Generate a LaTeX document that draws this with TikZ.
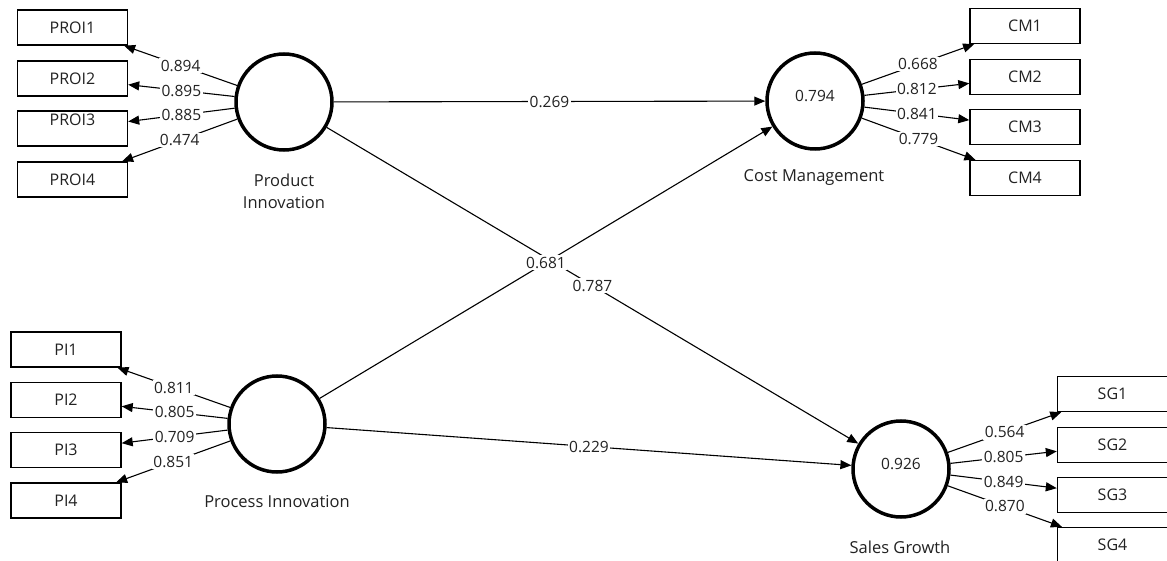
\documentclass[tikz,border=0pt]{standalone}
\usepackage{fontspec}
\setmainfont{Open Sans}
\usetikzlibrary{arrows.meta}
\newcommand\figfont{\fontsize{15.5}{22}\selectfont}
\newcommand\capfont{\fontsize{16.5}{22}\selectfont}
\newcommand\boxfont{\fontsize{16}{22}\selectfont}
\definecolor{txt}{HTML}{222222}
\begin{document}
\begin{tikzpicture}[x=1pt,y=-1pt,
  lv/.style={circle,draw,line width=3.5pt,minimum size=96pt,inner sep=0pt,font=\figfont,text=txt},
  ind/.style={rectangle,draw,line width=1.4pt,minimum width=110pt,minimum height=35pt,inner sep=0pt,font=\boxfont,text=txt},
  lnk/.style={line width=1.1pt,-{Triangle[length=11pt,width=9pt]}},
  loadlab/.style={fill=white,inner sep=1.5pt,font=\figfont,text=txt},
  lvcaption/.style={font=\capfont,align=center,text=txt}]
\useasboundingbox (0,0) rectangle (1167,561);
\clip (0,0) rectangle (1167,561);
\fill[white] (0,0) rectangle (1167,561);
% latent variables
\node[lv] (PRI) at (284,102) {};
\node[lv] (CM) at (815,101) {\raisebox{5pt}[\height][\depth]{0.794}};
\node[lv] (PCI) at (277,424) {};
\node[lv] (SG) at (901,469) {\raisebox{5pt}[\height][\depth]{0.926}};
% captions
\node[lvcaption] (capPRI) at (284,191) {Product\\Innovation};
\node[lvcaption] (capCM) at (814,178) {Cost Management};
\node[lvcaption] (capPCI) at (277,502) {Process Innovation};
\node[lvcaption] (capSG) at (900,547) {Sales Growth};
% indicators
\node[ind] (PROI1) at (72.5,27.5) {PROI1};
\node[ind] (PROI2) at (72.5,78.5) {PROI2};
\node[ind] (PROI3) at (72.5,128.5) {\raisebox{9pt}[\height][\depth]{PROI3}};
\node[ind] (PROI4) at (72.5,179.5) {PROI4};
\node[ind] (CM1) at (1025,26) {CM1};
\node[ind] (CM2) at (1025,77) {CM2};
\node[ind] (CM3) at (1025,127) {CM3};
\node[ind] (CM4) at (1025,178) {CM4};
\node[ind] (PI1) at (66,349.5) {PI1};
\node[ind] (PI2) at (66,400) {PI2};
\node[ind] (PI3) at (66,450) {PI3};
\node[ind] (PI4) at (66,500.5) {PI4};
\node[ind] (SG1) at (1112.5,394) {SG1};
\node[ind] (SG2) at (1112.5,445) {SG2};
\node[ind] (SG3) at (1112.5,495) {SG3};
\node[ind] (SG4) at (1112.5,545) {SG4};
% loadings
\draw[lnk] (PRI) -- node[loadlab] {0.894} (PROI1);
\draw[lnk] (PRI) -- node[loadlab] {0.895} (PROI2);
\draw[lnk] (PRI) -- node[loadlab] {0.885} (PROI3);
\draw[lnk] (PRI) -- node[loadlab] {0.474} (PROI4);
\draw[lnk] (CM) -- node[loadlab] {0.668} (CM1);
\draw[lnk] (CM) -- node[loadlab] {0.812} (CM2);
\draw[lnk] (CM) -- node[loadlab] {0.841} (CM3);
\draw[lnk] (CM) -- node[loadlab] {0.779} (CM4);
\draw[lnk] (PCI) -- node[loadlab] {0.811} (PI1);
\draw[lnk] (PCI) -- node[loadlab] {0.805} (PI2);
\draw[lnk] (PCI) -- node[loadlab] {0.709} (PI3);
\draw[lnk] (PCI) -- node[loadlab] {0.851} (PI4);
\draw[lnk] (SG) -- node[loadlab] {0.564} (SG1);
\draw[lnk] (SG) -- node[loadlab] {0.805} (SG2);
\draw[lnk] (SG) -- node[loadlab] {0.849} (SG3);
\draw[lnk] (SG) -- node[loadlab] {0.870} (SG4);
% structural paths
\draw[lnk] (PRI) -- node[loadlab] {0.269} (CM);
\draw[lnk] (PCI) -- node[loadlab] {0.229} (SG);
\draw[lnk] (PRI) -- node[loadlab] {0.787} (SG);
\draw[lnk] (PCI) -- node[loadlab] {0.681} (CM);
\end{tikzpicture}
\end{document}
